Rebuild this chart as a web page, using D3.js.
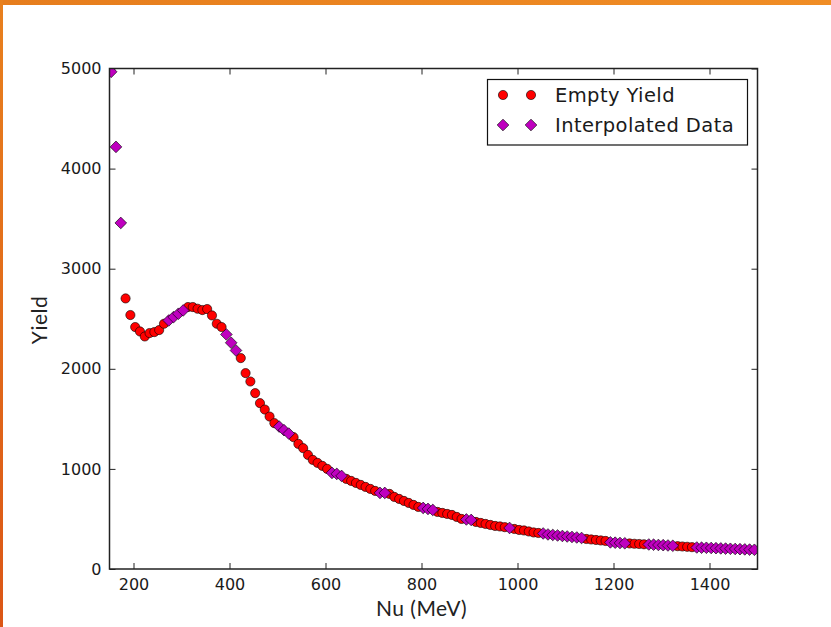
<!DOCTYPE html>
<html>
<head>
<meta charset="utf-8">
<script src="https://d3js.org/d3.v7.min.js"></script>
<style>
body{margin:0;background:#fff;}
svg{display:block;}
</style>
</head>
<body>
<svg id="chart"></svg>
<script>
//nu values (MeV) and yields for the measured points
var emptyNu = [183.5,193.5,203.5,213.5,223.5,233.5,243.5,253.5,263.5,
    313.5,323.5,333.5,343.5,353.5,363.5,373.5,383.5,
    423.5,433.5,443.5,453.5,463.5,473.5,483.5,493.5,
    533.5,543.5,553.5,563.5,573.5,583.5,593.5,603.5,
    643.5,653.5,663.5,673.5,683.5,693.5,703.5,
    733.5,743.5,753.5,763.5,773.5,783.5,793.5,
    833.5,843.5,853.5,863.5,873.5,883.5,
    913.5,923.5,933.5,943.5,953.5,963.5,973.5,
    993.5,1003.5,1013.5,1023.5,1033.5,1043.5,
    1143.5,1153.5,1163.5,1173.5,1183.5,
    1233.5,1243.5,1253.5,1263.5,
    1333.5,1343.5,1353.5,1363.5]
var emptyYield = [2703,2537,2417,2373,2323,2357,2367,2387,2450,
    2617,2617,2600,2587,2597,2533,2450,2417,
    2107,1957,1873,1757,1657,1593,1523,1457,
    1317,1250,1207,1140,1090,1060,1030,1000,
    900,880,860,840,820,800,780,
    750,720,700,680,660,640,620,
    570,560,550,540,520,500,
    470,460,450,440,430,425,418,
    400,390,385,375,365,360,
    300,295,290,285,280,
    255,252,250,247,
    228,225,222,218]

//nu values and yields for the interpolated points
var interpNu = [153.5,163.5,173.5,
    273.5,283.5,293.5,303.5,
    393.5,403.5,413.5,
    503.5,513.5,523.5,
    613.5,623.5,633.5,
    713.5,723.5,
    803.5,813.5,823.5,
    893.5,903.5,
    983.5,
    1053.5,1063.5,1073.5,1083.5,1093.5,1103.5,1113.5,1123.5,1133.5,
    1193.5,1203.5,1213.5,1223.5,
    1273.5,1283.5,1293.5,1303.5,1313.5,1323.5,
    1373.5,1383.5,1393.5,1403.5,1413.5,1423.5,1433.5,1443.5,1453.5,1463.5,1473.5,1483.5,1493.5]
var interpYield = [4967,4217,3457,
    2483,2517,2550,2583,
    2343,2260,2183,
    1423,1387,1353,
    960,950,930,
    760,760,
    610,600,590,
    495,490,
    410,
    355,345,340,335,330,325,320,315,310,
    266,263,260,257,
    245,243,240,238,235,232,
    215,213,212,210,208,206,204,202,200,198,196,194,192]

var xTicks = [200,400,600,800,1000,1200,1400]
var yTicks = [0,1000,2000,3000,4000,5000]

var seriesNames = ["Empty Yield","Interpolated Data"]

var screen = {width:831, height:627}
var margins = {top:68.5, bottom:58, left:109.5, right:73.5}
var graph = {
    width:screen.width-margins.left-margins.right,
    height:screen.height-margins.top-margins.bottom
}

var svg = d3.select("#chart")
    .attr("width",screen.width)
    .attr("height",screen.height)

//orange slide border
var defs = svg.append("defs")
var topGrad = defs.append("linearGradient").attr("id","topGrad")
topGrad.append("stop").attr("offset","0%").attr("stop-color","#e67d1d")
topGrad.append("stop").attr("offset","100%").attr("stop-color","#f08d25")
var leftGrad = defs.append("linearGradient").attr("id","leftGrad")
    .attr("x1",0).attr("y1",0).attr("x2",0).attr("y2",1)
leftGrad.append("stop").attr("offset","0%").attr("stop-color","#e8801e")
leftGrad.append("stop").attr("offset","100%").attr("stop-color","#db5616")

defs.append("clipPath").attr("id","plotClip")
    .append("rect")
    .attr("width",graph.width)
    .attr("height",graph.height)

svg.append("rect").attr("x",0).attr("y",0)
    .attr("width",screen.width).attr("height",5)
    .attr("fill","url(#topGrad)")
svg.append("rect").attr("x",0).attr("y",0)
    .attr("width",3).attr("height",screen.height)
    .attr("fill","url(#leftGrad)")

//scales
var xScale = d3.scaleLinear()
    .domain([150,1500])
    .range([0,graph.width])
var yScale = d3.scaleLinear()
    .domain([0,5000])
    .range([graph.height,0])

var g = svg.append("g")
    .attr("transform","translate("+margins.left+","+margins.top+")")

//axes, ticks point inward like matplotlib classic
var tickFont = "'DejaVu Sans', sans-serif"
var styleAxis = function(sel)
{
    sel.select(".domain").remove()
    sel.selectAll("line").attr("stroke","#222").attr("stroke-width",1)
    sel.selectAll("text")
        .attr("fill","#1a1a1a")
        .style("font-family",tickFont)
        .style("font-size","16px")
}
g.append("g")
    .attr("transform","translate(0,"+graph.height+")")
    .call(d3.axisBottom(xScale).tickValues(xTicks).tickSize(-6).tickPadding(10).tickFormat(d3.format("d")))
    .call(styleAxis)
g.append("g")
    .call(d3.axisLeft(yScale).tickValues(yTicks).tickSize(-6).tickPadding(8).tickFormat(d3.format("d")))
    .call(styleAxis)
g.append("g")
    .call(d3.axisTop(xScale).tickValues(xTicks).tickSize(-6).tickFormat(""))
    .call(styleAxis)
g.append("g")
    .attr("transform","translate("+graph.width+",0)")
    .call(d3.axisRight(yScale).tickValues(yTicks).tickSize(-6).tickFormat(""))
    .call(styleAxis)

//data points
var plot = g.append("g").attr("clip-path","url(#plotClip)")

var emptyData = emptyNu.map(function(nu,i){return {nu:nu,y:emptyYield[i]}})
var interpData = interpNu.map(function(nu,i){return {nu:nu,y:interpYield[i]}})

plot.selectAll(".empty")
    .data(emptyData)
    .enter()
    .append("circle")
    .attr("class","empty")
    .attr("cx",function(d){return xScale(d.nu)})
    .attr("cy",function(d){return yScale(d.y)})
    .attr("r",4.6)
    .attr("fill","#ff0000")
    .attr("stroke","#000")
    .attr("stroke-width",0.6)

var diamond = d3.symbol().type(d3.symbolSquare).size(68)
plot.selectAll(".interp")
    .data(interpData)
    .enter()
    .append("path")
    .attr("class","interp")
    .attr("d",diamond)
    .attr("transform",function(d){return "translate("+xScale(d.nu)+","+yScale(d.y)+") rotate(45)"})
    .attr("fill","#bf00bf")
    .attr("stroke","#000")
    .attr("stroke-width",0.6)

//frame
g.append("rect")
    .attr("width",graph.width)
    .attr("height",graph.height)
    .attr("fill","none")
    .attr("stroke","#222")
    .attr("stroke-width",1.5)

//axis labels
var labelFont = "Lato, 'Open Sans', sans-serif"
svg.append("text")
    .attr("x",margins.left+graph.width/2 - 12)
    .attr("y",616)
    .attr("text-anchor","middle")
    .style("font-family",labelFont)
    .style("font-size","21px")
    .style("letter-spacing","0.5px")
    .attr("fill","#222")
    .text("Nu (MeV)")
svg.append("text")
    .attr("transform","translate(47,320) rotate(-90)")
    .attr("text-anchor","middle")
    .style("font-family",labelFont)
    .style("font-size","21px")
    .style("letter-spacing","0.5px")
    .attr("fill","#222")
    .text("Yield")

//legend
var legend = svg.append("g")
legend.append("rect")
    .attr("x",487.5).attr("y",79.5)
    .attr("width",260).attr("height",65.5)
    .attr("fill","#fff")
    .attr("stroke","#111")
    .attr("stroke-width",1.2)

var rows = [95,125]
seriesNames.forEach(function(name,i)
{
    [503,531].forEach(function(mx)
    {
        if(i==0)
        {
            legend.append("circle")
                .attr("cx",mx).attr("cy",rows[i]).attr("r",4.6)
                .attr("fill","#ff0000").attr("stroke","#000").attr("stroke-width",0.6)
        }
        else
        {
            legend.append("path")
                .attr("d",diamond)
                .attr("transform","translate("+mx+","+rows[i]+") rotate(45)")
                .attr("fill","#bf00bf").attr("stroke","#000").attr("stroke-width",0.6)
        }
    })
    legend.append("text")
        .attr("x",555)
        .attr("y",rows[i]+7)
        .style("font-family",tickFont)
        .style("font-size","19.5px")
        .style("letter-spacing","0.4px")
        .attr("fill","#1a1a1a")
        .text(name)
})
</script>
</body>
</html>
